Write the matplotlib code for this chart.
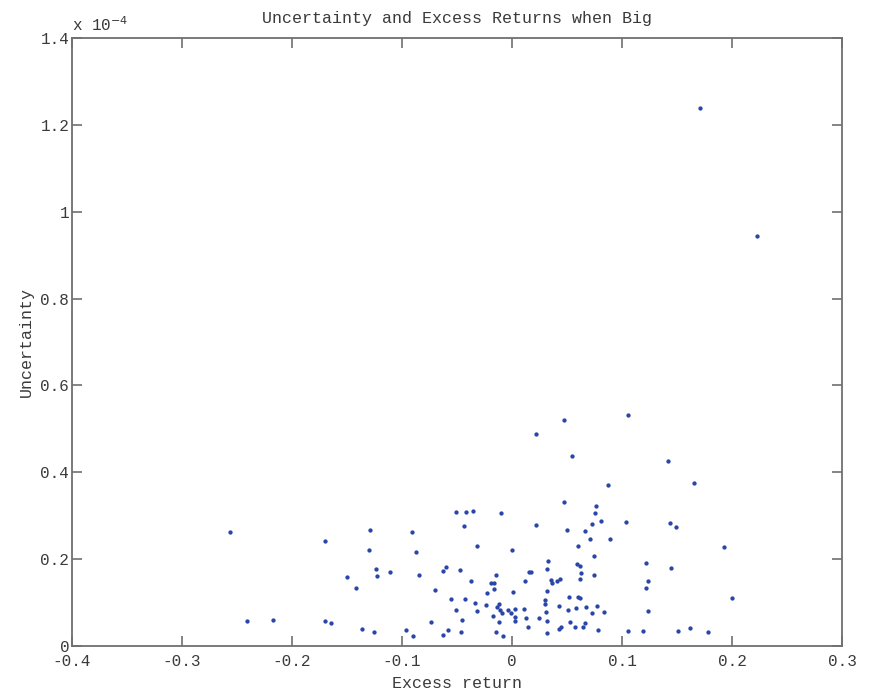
import matplotlib
matplotlib.use("Agg")
import matplotlib.pyplot as plt
from matplotlib.ticker import FuncFormatter

# Excess return (x) and uncertainty (y, in units of 1e-4)
excess_return = [
    -0.2564, -0.2409, -0.2170, -0.1700, -0.1697, -0.1643, -0.1294, -0.1300, -0.1503, -0.1415,
    -0.1239, -0.1225, -0.1106, -0.1364, -0.1257, -0.0906, -0.0873, -0.0848, -0.0966, -0.0900,
    -0.0506, -0.0415, -0.0355, -0.0097, -0.0434, 0.0215, -0.0315, 0.0003, -0.0603, -0.0625,
    -0.0473, -0.0145, 0.0152, 0.0170, -0.0373, 0.0115, -0.0195, -0.0168, -0.0168, -0.0703,
    -0.0225, 0.0006, -0.0555, -0.0430, -0.0339, -0.0236, -0.0121, -0.0139, -0.0512, -0.0318,
    -0.0109, -0.0094, -0.0034, -0.0012, 0.0030, 0.0106, -0.0170, 0.0030, 0.0030, 0.0130,
    0.0245, -0.0455, -0.0121, -0.0734, 0.0145, -0.0582, -0.0630, -0.0466, -0.0145, -0.0085,
    0.1052, 0.0473, 0.0221, 0.0548, 0.0873, 0.0470, 0.0761, 0.0755, 0.0809, 0.1034,
    0.0727, 0.0500, 0.0661, 0.0706, 0.0891, 0.0597, 0.0743, 0.0330, 0.1221, 0.0594,
    0.0618, 0.0318, 0.0625, 0.0745, 0.0618, 0.0352, 0.0364, 0.0406, 0.0436, 0.1234,
    0.1218, 0.0321, 0.0518, 0.0603, 0.0615, 0.0300, 0.0300, 0.0430, 0.0506, 0.0582,
    0.0670, 0.0770, 0.0730, 0.0836, 0.0306, 0.1234, 0.0315, 0.0530, 0.0664, 0.0648,
    0.0575, 0.0445, 0.0425, 0.0779, 0.1052, 0.1194, 0.0321, 0.1415, 0.1652, 0.1434,
    0.1491, 0.1925, 0.1443, 0.2000, 0.1509, 0.1615, 0.1785, 0.1712, 0.2227,
]
uncertainty = [
    0.2625, 0.0576, 0.0606, 0.2411, 0.0569, 0.0530, 0.2664, 0.2217, 0.1589, 0.1342,
    0.1773, 0.1619, 0.1711, 0.0385, 0.0329, 0.2618, 0.2157, 0.1628, 0.0361, 0.0223,
    0.3079, 0.3092, 0.3102, 0.3069, 0.2770, 0.2786, 0.2303, 0.2217, 0.1812, 0.1720,
    0.1750, 0.1628, 0.1704, 0.1711, 0.1504, 0.1504, 0.1462, 0.1462, 0.1324, 0.1296,
    0.1213, 0.1243, 0.1075, 0.1075, 0.0990, 0.0937, 0.0967, 0.0905, 0.0836, 0.0806,
    0.0829, 0.0767, 0.0822, 0.0753, 0.0852, 0.0859, 0.0691, 0.0675, 0.0583, 0.0652,
    0.0652, 0.0592, 0.0560, 0.0546, 0.0444, 0.0368, 0.0260, 0.0322, 0.0322, 0.0223,
    0.5326, 0.5197, 0.4881, 0.4375, 0.3700, 0.3316, 0.3224, 0.3055, 0.2885, 0.2848,
    0.2816, 0.2664, 0.2641, 0.2457, 0.2464, 0.2296, 0.2072, 0.1957, 0.1911, 0.1881,
    0.1849, 0.1766, 0.1674, 0.1642, 0.1543, 0.1520, 0.1451, 0.1490, 0.1536, 0.1497,
    0.1329, 0.1259, 0.1121, 0.1128, 0.1098, 0.1052, 0.0960, 0.0928, 0.0836, 0.0882,
    0.0891, 0.0914, 0.0760, 0.0783, 0.0776, 0.0813, 0.0583, 0.0546, 0.0523, 0.0437,
    0.0437, 0.0444, 0.0391, 0.0368, 0.0338, 0.0345, 0.0292, 0.4267, 0.3753, 0.2839,
    0.2740, 0.2286, 0.1789, 0.1098, 0.0338, 0.0408, 0.0329, 1.2381, 0.9440,
]

x_ticks = [-0.4, -0.3, -0.2, -0.1, 0, 0.1, 0.2, 0.3]
y_ticks = [0, 0.2, 0.4, 0.6, 0.8, 1.0, 1.2, 1.4]

title = "Uncertainty and Excess Returns when Big"
xlabel = "Excess return"
ylabel = "Uncertainty"

mono = ["Liberation Mono", "DejaVu Sans Mono"]
txt_color = "#3a3a3a"
ax_color = "#707070"

fig = plt.figure(figsize=(8.74, 6.93), dpi=100)
fig.patch.set_facecolor("white")
ax = fig.add_axes([0.0824, 0.0678, 0.8810, 0.8774])

ax.plot(excess_return, uncertainty, linestyle="none", marker="o",
        markersize=3.1, color="#2a46a8", markeredgewidth=0)

ax.set_xlim(-0.4, 0.3)
ax.set_ylim(0, 1.4)
ax.set_xticks(x_ticks)
ax.set_yticks(y_ticks)
fmt = FuncFormatter(lambda v, p: "%g" % round(v, 6))
ax.xaxis.set_major_formatter(fmt)
ax.yaxis.set_major_formatter(fmt)

for s in ax.spines.values():
    s.set_color(ax_color)
    s.set_linewidth(1.3)
ax.tick_params(direction="in", length=7, width=1.2, color=ax_color,
               top=True, right=True, labelsize=11.5, labelcolor=txt_color)
ax.tick_params(axis="x", pad=6)
ax.tick_params(axis="y", pad=2)
for lab in ax.get_xticklabels() + ax.get_yticklabels():
    lab.set_family(mono)

ax.set_xlabel(xlabel, fontsize=12, family=mono, color=txt_color, labelpad=5)
ax.set_ylabel(ylabel, fontsize=12, family=mono, color=txt_color, labelpad=5)
ax.set_title(title, fontsize=12, family=mono, color=txt_color, pad=11)

ax.text(0.0, 1.006, r"x 10$^{-4}$", transform=ax.transAxes, fontsize=11.5,
        family=mono, color=txt_color, ha="left", va="bottom")

fig.savefig("out.png", dpi=100, facecolor="white")
